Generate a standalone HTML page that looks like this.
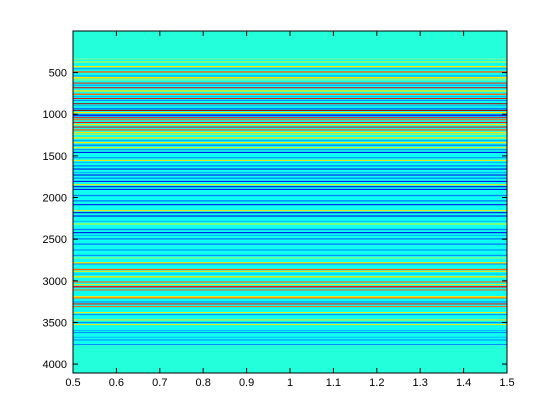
<!DOCTYPE html>
<html><head><meta charset="utf-8"><style>
body{margin:0;background:#fff;width:560px;height:419px;overflow:hidden}
svg{display:block}
text{font-family:"Liberation Sans",sans-serif;font-size:11px;fill:#000}
</style></head><body>
<svg id="chart" width="560" height="419"></svg>
<script>
const stripeRows=[332,364,420,444,484,532,552,580,620,644,676,712,752,780,804,828,868,892,924,948,972,996,1012,1036,1060,1092,1116,1148,1180,1212,1236,1276,1308,1332,1364,1396,1420,1452,1484,1516,1548,1572,1612,1652,1692,1724,1760,1800,1840,1864,1896,1968,2000,2032,2080,2152,2176,2216,2280,2312,2376,2416,2448,2488,2552,2624,2688,2720,2776,2792,2856,2880,2912,2944,3008,3040,3064,3104,3184,3200,3248,3272,3304,3376,3400,3464,3496,3520,3592,3616,3672,3704,3760];
const stripeVals=[.5,.55,.65,.3,.78,.3,.65,.5,.85,.3,.9,.65,.78,.3,.9,.25,.97,.3,.25,.97,.65,.25,.1,.88,.78,.88,.65,.88,.78,.65,.55,.65,.3,.65,.25,.65,.25,.1,.38,.25,.65,.3,.25,.1,.3,.1,.25,.1,.65,.1,.1,.25,.38,.25,.1,.65,.1,.1,.3,.6,.25,.1,.3,.25,.25,.25,.25,.55,.65,.25,.78,.65,.3,.65,.78,.65,.88,.78,.65,.78,.25,.88,.78,.65,.25,.65,.25,.65,.3,.25,.3,.25,.25];
const stripeLens=[12,16,16,16,16,16,20,16,12,16,12,16,16,12,12,12,12,12,20,12,16,16,12,12,12,12,16,12,16,16,12,16,16,16,16,12,12,12,16,12,12,12,16,12,16,12,16,12,12,12,12,16,16,16,12,12,12,12,12,12,16,12,12,16,16,12,12,12,16,12,16,12,12,16,12,12,16,12,16,12,12,12,12,12,12,12,12,12,12,12,12,12,12];
const bgRanges=[[0.5,330,0.41],[330,3772,0.39],[3772,4107,0.41]];
const xTicks=[0.5,0.6,0.7,0.8,0.9,1,1.1,1.2,1.3,1.4,1.5];
const yTicks=[500,1000,1500,2000,2500,3000,3500,4000];
const L=73,R=507,T=31,B=373,Y0=0.5,Y1=4107;
const xs=v=>L+(v-0.5)/(1.0)*(R-L);
const ys=v=>T+(v-Y0)/(Y1-Y0)*(B-T);
function jet(v){const c=x=>Math.round(255*Math.max(0,Math.min(1,1.5-Math.abs(4*v-x))));return `rgb(${c(3)},${c(2)},${c(1)})`;}
const svg=document.getElementById('chart');const NS='http://www.w3.org/2000/svg';
function mk(t,a){const e=document.createElementNS(NS,t);for(const k in a)e.setAttribute(k,a[k]);svg.appendChild(e);return e;}
bgRanges.forEach(r=>{const e=mk('rect',{x:L,y:ys(r[0]),width:R-L,height:ys(r[1])-ys(r[0]),fill:jet(r[2])});

});
stripeRows.forEach((r,i)=>{const e=mk('rect',{x:L,y:ys(r),width:R-L,height:ys(r+stripeLens[i])-ys(r),fill:jet(stripeVals[i])});

});
const box=mk('rect',{x:L,y:T,width:R-L,height:B-T,fill:'none',stroke:'#000','stroke-width':1});


xTicks.forEach(v=>{const x=xs(v);
mk('line',{x1:x,x2:x,y1:B,y2:B-5,stroke:'#000'});mk('line',{x1:x,x2:x,y1:T,y2:T+5,stroke:'#000'});
const t=mk('text',{x:x,y:B+13,'text-anchor':'middle'});t.textContent=String(v);

});
yTicks.forEach(v=>{const y=ys(v);
mk('line',{x1:L,x2:L+5,y1:y,y2:y,stroke:'#000'});mk('line',{x1:R,x2:R-5,y1:y,y2:y,stroke:'#000'});
const t=mk('text',{x:L-6,y:y+4,'text-anchor':'end'});t.textContent=String(v);

});
</script>
</body></html>
